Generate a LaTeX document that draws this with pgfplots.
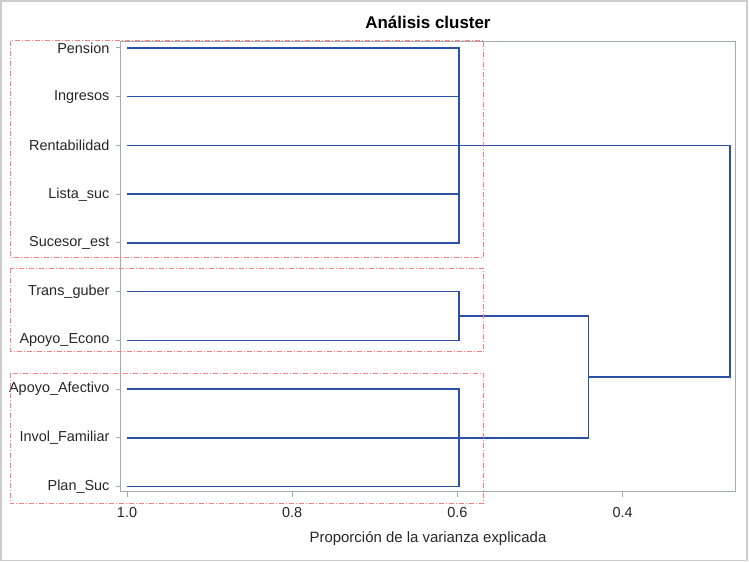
\documentclass[border=0pt]{standalone}
\usepackage{fontspec}
\setmainfont{Liberation Sans}
\usepackage{pgfplots}
\pgfplotsset{compat=1.18}

\definecolor{dendro}{RGB}{44,80,166}
\definecolor{boxred}{RGB}{255,125,125}
\definecolor{framegray}{RGB}{165,170,176}
\definecolor{outergray}{RGB}{205,205,205}

\begin{document}
\begin{tikzpicture}[x=1bp,y=1bp]
\useasboundingbox (0,0) rectangle (749,562);
\draw[outergray, line width=1.5bp] (1,1.3) rectangle (747,561);
\begin{axis}[
  at={(121bp,70.3bp)}, anchor=south west,
  scale only axis, width=614bp, height=449.7bp,
  x dir=reverse,
  xmin=0.2639, xmax=1.0073,
  ymin=0.897, ymax=10.123,
  xtick={0.4,0.6,0.8,1.0},
  ytick={1,2,3,4,5,6,7,8,9,10},
  yticklabels={Plan\_Suc,Invol\_Familiar,Apoyo\_Afectivo,Apoyo\_Econo,Trans\_guber,
    Sucesor\_est,Lista\_suc,Rentabilidad,Ingresos,Pension},
  /pgf/number format/assume math mode=true,
  xticklabel style={/pgf/number format/fixed, /pgf/number format/fixed zerofill,
    /pgf/number format/precision=1, yshift=-7bp},
  yticklabel style={xshift=-3bp},
  tick label style={font=\fontsize{14.5}{16}\selectfont, text=black!85},
  tick align=outside, major tick length=5bp,
  xtick pos=bottom, ytick pos=left,
  tick style={framegray, line width=1bp},
  axis line style={framegray, line width=1bp},
  title={Análisis cluster},
  title style={font=\bfseries\fontsize{17}{20}\selectfont, at={(axis description cs:0.5,1)}, anchor=base, yshift=8bp},
  xlabel={Proporción de la varianza explicada},
  xlabel style={font=\fontsize{15}{18}\selectfont, text=black!85, at={(axis description cs:0.5,0)}, anchor=base, yshift=-51bp},
]
% cluster 1
\addplot[dendro, line width=1.5bp] coordinates {(1.0,10) (0.598,10) (0.598,6) (1.0,6)};
\addplot[dendro, line width=1.5bp] coordinates {(1.0,9) (0.598,9)};
\addplot[dendro, line width=1.5bp] coordinates {(1.0,7) (0.598,7)};
\addplot[dendro, line width=1.5bp] coordinates {(1.0,8) (0.270,8) (0.270,3.25) (0.4415,3.25)};
% cluster 2
\addplot[dendro, line width=1.5bp] coordinates {(1.0,5) (0.598,5) (0.598,4) (1.0,4)};
\addplot[dendro, line width=1.5bp] coordinates {(0.598,4.5) (0.4415,4.5) (0.4415,2) (1.0,2)};
% cluster 3
\addplot[dendro, line width=1.5bp] coordinates {(1.0,3) (0.598,3) (0.598,1) (1.0,1)};
\end{axis}
\begin{scope}[boxred, line width=1bp, dash pattern=on 5bp off 2bp on 1bp off 2bp]
\draw (10,521) rectangle (483.5,304.7);
\draw (10,293.7) rectangle (483.5,210.3);
\draw (10,188.7) rectangle (483.5,58);
\end{scope}
\end{tikzpicture}
\end{document}
